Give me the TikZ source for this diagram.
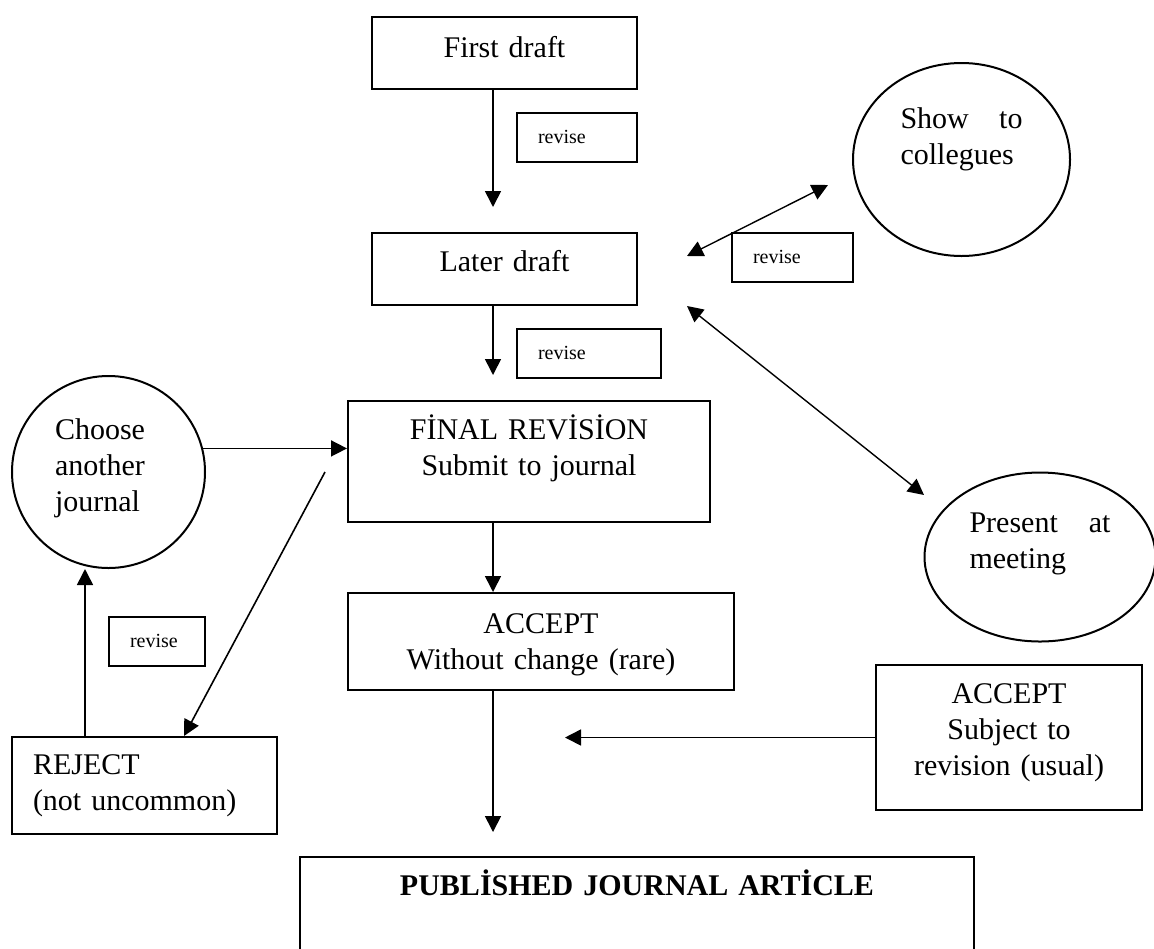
\documentclass[tikz,border=0pt]{standalone}
\usepackage{fontspec}
\setmainfont{Liberation Serif}
\usetikzlibrary{arrows.meta, positioning, shapes.geometric}
\tikzset{
    flowchart/.style={>={Triangle[length=8pt, width=8pt]}, x=0.5pt, y=-0.5pt,
        font=\fontsize{15}{18}\selectfont},
    block/.style={draw, line width=1pt, anchor=north, inner xsep=10.5pt, inner ysep=0pt, align=center},
    note/.style={block, align=left, font=\fontsize{10}{12}\selectfont, text height=15pt, text depth=9.5pt},
    bubble/.style={draw, ellipse, line width=1pt, inner sep=0pt, align=left, text height=11pt},
    link/.style={->, line width=0.8pt},
    twoway/.style={<->, line width=0.7pt},
}

\begin{document}
\begin{tikzpicture}[flowchart]
    \useasboundingbox (0,0) rectangle (1154,948);
    \clip (0,0) rectangle (1154,948);

    % main column
    \node[block, text width=111.5pt, text height=20pt, text depth=16pt] (first)  at (504.5,16) {First draft};
    \node[block, text width=111.5pt, text height=19pt, text depth=17pt] (later)  at (504.5,232) {Later draft};
    \node[block, text width=160pt, text height=19pt, text depth=41.5pt] (final)  at (529,400) {FİNAL REVİSİON\\Submit to journal};
    \node[block, text width=172pt, text height=20pt, text depth=28.5pt] (accept) at (541,592) {ACCEPT\\Without change (rare)};
    \node[block, text width=316pt, text height=19pt, text depth=53pt,
          font=\fontsize{15}{18}\selectfont\bfseries]                    (published) at (637,856) {PUBLİSHED JOURNAL ARTİCLE};

    % side boxes
    \node[block, align=left, text width=111.5pt, text height=18.5pt, text depth=30pt] (reject) at (144.5,736) {REJECT\\(not uncommon)};
    \node[block, text width=112pt, text height=19pt, text depth=53.5pt] (acceptrev) at (1009,664) {ACCEPT\\Subject to\\revision (usual)};

    \node[note, text width=39pt]   (rev1) at (577,112)   {revise};
    \node[note, text width=51pt]   (rev2) at (589,328)   {revise};
    \node[note, text width=27pt]   (rev3) at (157,616)   {revise};
    \node[note, text width=39.5pt] (rev4) at (792.5,232) {revise};

    % ellipses
    \node[bubble, minimum width=96.5pt, minimum height=96pt, text width=53.5pt, text depth=44pt]
        (choose) at (108.5,472) {Choose\\another\\journal};
    \node[bubble, minimum width=108.5pt, minimum height=96.5pt, text width=61pt, text depth=42.5pt]
        (showcol) at (961.5,159.5) {Show\hfill to\\collegues};
    \node[bubble, minimum width=115.5pt, minimum height=84.5pt, text width=70.5pt, text depth=36pt]
        (present) at (1040,557) {Present\hfill at\\meeting};

    % free ends of the connectors
    \coordinate (tipA)  at (493,207);
    \coordinate (tipB)  at (493,375);
    \coordinate (tipC)  at (493,832);
    \coordinate (tipD)  at (565,737);
    \coordinate (fromF) at (325,472);
    \coordinate (sideA) at (687,256);
    \coordinate (sideB) at (828,185);
    \coordinate (sideC) at (687,306);
    \coordinate (sideD) at (924,495);

    \draw[link] (first.south -| tipA) -- (tipA);
    \draw[link] (later.south -| tipB) -- (tipB);
    \draw[link] (tipB |- final.south) -- (tipB |- accept.north);
    \draw[link] (tipB |- accept.south) -- (tipC);
    \draw[link] (acceptrev.west) -- (acceptrev.west -| tipD);
    \draw[link] (choose.14) -- (choose.14 -| final.west);
    \draw[link] (fromF) -- ([xshift=19.75pt]reject.north);
    \draw[link] ([xshift=-29.75pt]reject.north) -- ([xshift=-11.75pt]choose.south);
    \draw[twoway] (sideA) -- (sideB);
    \draw[twoway] (sideC) -- (sideD);
\end{tikzpicture}
\end{document}
